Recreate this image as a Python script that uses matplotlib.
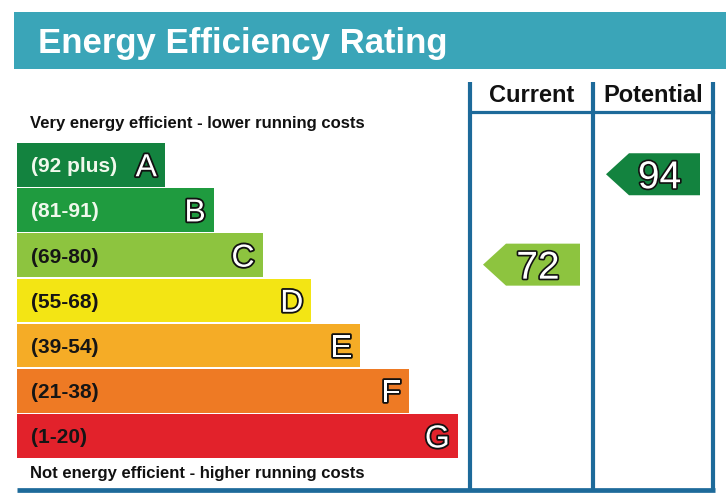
import matplotlib
matplotlib.use("Agg")
import matplotlib.pyplot as plt
from matplotlib.patches import Rectangle, Polygon
import matplotlib.patheffects as pe

# ---------------- data ----------------
bands = ['A', 'B', 'C', 'D', 'E', 'F', 'G']
band_ranges = ['(92 plus)', '(81-91)', '(69-80)', '(55-68)', '(39-54)', '(21-38)', '(1-20)']
band_lower = [92, 81, 69, 55, 39, 21, 1]
band_colors = ['#13833f', '#1f9b3f', '#8dc43f', '#f3e514', '#f5ac26', '#ee7a24', '#e2222b']
range_text_colors = ['#f0f8ec', '#f0f8ec', '#151515', '#151515', '#151515', '#151515', '#151515']
columns = ['Current', 'Potential']
ratings = [72, 94]
title = 'Energy Efficiency Rating'
top_note = 'Very energy efficient - lower running costs'
bottom_note = 'Not energy efficient - higher running costs'

# ---------------- layout (pixel space) ----------------
W, H = 726, 503
fig = plt.figure(figsize=(W / 100, H / 100), dpi=100)
ax = fig.add_axes([0, 0, 1, 1])
ax.set_xlim(0, W)
ax.set_ylim(H, 0)
ax.axis('off')

FONT = 'Liberation Sans'
TEAL = '#3aa5b8'
BLUE = '#1d6a9a'

# title banner
ax.add_patch(Rectangle((14, 12), W - 14, 57, facecolor=TEAL, edgecolor='none'))
ax.text(38, 53, title, color='white', fontsize=25, fontweight='bold',
        family=FONT, va='baseline', ha='left')

# bars
X0, TOP, PITCH, BH = 17, 143, 45.2, 43.5
W0, DW = 148, 48.8
centers = [TOP + PITCH * i + BH / 2 for i in range(len(bands))]
widths = [W0 + DW * i for i in range(len(bands))]
ax.barh(centers, widths, left=X0, height=BH, color=band_colors, edgecolor='none')

outline = [pe.withStroke(linewidth=2.6, foreground='#111111')]
for i, b in enumerate(bands):
    ax.text(31, centers[i] + 7.5, band_ranges[i], color=range_text_colors[i],
            fontsize=15, fontweight='bold', family=FONT, va='baseline', ha='left')
    ax.text(X0 + widths[i] - 8, centers[i] + 11.5, b, color='white',
            fontsize=23, family=FONT, va='baseline', ha='right',
            path_effects=outline)

ax.text(30, 128, top_note, fontsize=12, fontweight='bold', family=FONT,
        color='#111111', va='baseline', ha='left')
ax.text(30, 478, bottom_note, fontsize=12, fontweight='bold', family=FONT,
        color='#111111', va='baseline', ha='left')

# rating columns
col_x = [470, 593, 713]
LT, LB = 82, 490
for x in col_x:
    ax.plot([x, x], [LT, LB], color=BLUE, lw=3, solid_capstyle='butt')
ax.plot([col_x[0], col_x[-1]], [112, 112], color=BLUE, lw=2.3)
ax.plot([X0, col_x[-1] + 1.5], [LB, LB], color=BLUE, lw=3.4, solid_capstyle='butt')

for j, name in enumerate(columns):
    cx = (col_x[j] + col_x[j + 1]) / 2
    ax.text(cx, 102, name, fontsize=17, fontweight='bold', family=FONT,
            color='#111111', ha='center', va='baseline')


def band_of(v):
    for i, lo in enumerate(band_lower):
        if v >= lo:
            return i
    return len(bands) - 1


num_outline = [pe.withStroke(linewidth=2.4, foreground='#111111')]
for j, val in enumerate(ratings):
    bi = band_of(val)
    cy = centers[bi] + 9.5
    half = 21
    tip = col_x[j] + 13
    body = tip + 23
    right = col_x[j + 1] - 13
    poly = Polygon([(tip, cy), (body, cy - half), (right, cy - half),
                    (right, cy + half), (body, cy + half)], closed=True,
                   facecolor=band_colors[bi], edgecolor='none')
    ax.add_patch(poly)
    ax.text((body + right) / 2 - 5, cy + 14, str(val), color='white', fontsize=28,
            family=FONT, ha='center', va='baseline', path_effects=num_outline)

fig.savefig('out.png', dpi=100)
